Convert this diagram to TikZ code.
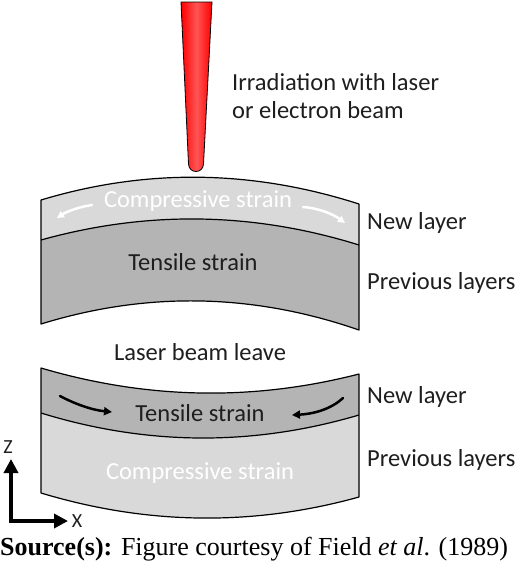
\documentclass[tikz,border=0pt]{standalone}
\usepackage{fontspec}
\setmainfont{Carlito}
\newfontfamily\srcfont{Liberation Serif}
\usetikzlibrary{arrows.meta}
\definecolor{lightfill}{RGB}{217,217,217}
\definecolor{darkfill}{RGB}{180,180,180}
\definecolor{textdark}{RGB}{30,30,30}
\definecolor{beamlight}{RGB}{255,85,85}
\begin{document}
\begin{tikzpicture}[x=1pt,y=-1pt,
 lbl/.style={font=\fontsize{24.5}{29}\selectfont, text=textdark, inner sep=0pt},
 axlbl/.style={font=\fontsize{20}{22}\selectfont, text=textdark, inner sep=0pt},
 wlbl/.style={font=\fontsize{24.5}{29}\selectfont, text=white, inner sep=0pt},
 lyr/.style={draw=black, line width=1.2pt, line join=round},
 wharrow/.style={draw=white, line width=2.5pt, line cap=round, -{Triangle[length=7pt,width=7pt]}},
 bkarrow/.style={draw=black, line width=2.5pt, line cap=round, -{Triangle[length=8pt,width=8pt]}},
 axarrow/.style={line width=3.5pt, {Triangle[length=14pt,width=14pt]}-{Triangle[length=14pt,width=14pt]}}]
\useasboundingbox (0,0) rectangle (520,568);
% beam
\draw[line width=0.8pt, left color=red, right color=red, middle color=beamlight]
  (181,2) -- (212,2) -- (203.5,164) .. controls (203,174) and (189,174) .. (188.5,164) -- cycle;
% upper block
\fill[lightfill] (41,200) .. controls (147,168) and (253,170) .. (359,204) -- (359,245) .. controls (253,212) and (147,210.4) .. (41,240) -- cycle;
\fill[darkfill] (41,240) .. controls (147,210.4) and (253,212) .. (359,245) -- (359,330) .. controls (253,293.3) and (147,291.3) .. (41,324) -- cycle;
\draw[lyr] (41,200) .. controls (147,168) and (253,170) .. (359,204) -- (359,330) .. controls (253,293.3) and (147,291.3) .. (41,324) -- cycle;
\draw[lyr] (41,240) .. controls (147,210.4) and (253,212) .. (359,245);
% lower block
\fill[darkfill] (41,368) .. controls (147,399.3) and (253,401.3) .. (359,374) -- (359,415) .. controls (253,446.3) and (147,445.7) .. (41,413) -- cycle;
\fill[lightfill] (41,413) .. controls (147,445.7) and (253,446.3) .. (359,415) -- (359,497) .. controls (253,526.4) and (147,525) .. (41,493) -- cycle;
\draw[lyr] (41,368) .. controls (147,399.3) and (253,401.3) .. (359,374) -- (359,497) .. controls (253,526.4) and (147,525) .. (41,493) -- cycle;
\draw[lyr] (41,413) .. controls (147,445.7) and (253,446.3) .. (359,415);
% texts
\node[lbl, anchor=west] (irr) at (232,82) {Irradiation with laser};
\node[lbl, anchor=west] (irr2) at (232,110) {or electron beam};
\node[wlbl] (comp1) at (198,201) {Compressive strain};
\node[lbl] (tens1) at (193,262) {Tensile strain};
\node[lbl, anchor=west] (new1) at (367,223) {New layer};
\node[lbl, anchor=west] (prev1) at (367,283) {Previous layers};
\node[lbl] (leave) at (200,352) {Laser beam leave};
\node[lbl] (tens2) at (200,413) {Tensile strain};
\node[wlbl] (comp2) at (200,473) {Compressive strain};
\node[lbl, anchor=west] (new2) at (367,397) {New layer};
\node[lbl, anchor=west] (prev2) at (367,460) {Previous layers};
% strain arrows
\draw[wharrow] (92,205) .. controls (78,207) and (66,212) .. (57,218);
\draw[wharrow] (303,207) .. controls (318,208) and (333,214) .. (345,223);
\draw[bkarrow] (60,396) .. controls (75,404) and (92,410) .. (112,412);
\draw[bkarrow] (343,398) .. controls (330,410) and (312,414) .. (292,415);
% axes
\coordinate (o) at (11,521);
\coordinate (zt) at (11,459);
\coordinate (xt) at (68,521);
\draw[axarrow] (zt) -- (o) -- (xt);
\node[axlbl] (zl) at (8,447) {Z};
\node[axlbl] (xl) at (77,521) {X};
% source
\node[anchor=west, inner sep=0pt] (src) at (0,549) {\srcfont\fontsize{26}{30}\selectfont\textbf{Source(s):} Figure courtesy of Field \textit{et al}. (1989)};
\end{tikzpicture}
\end{document}
